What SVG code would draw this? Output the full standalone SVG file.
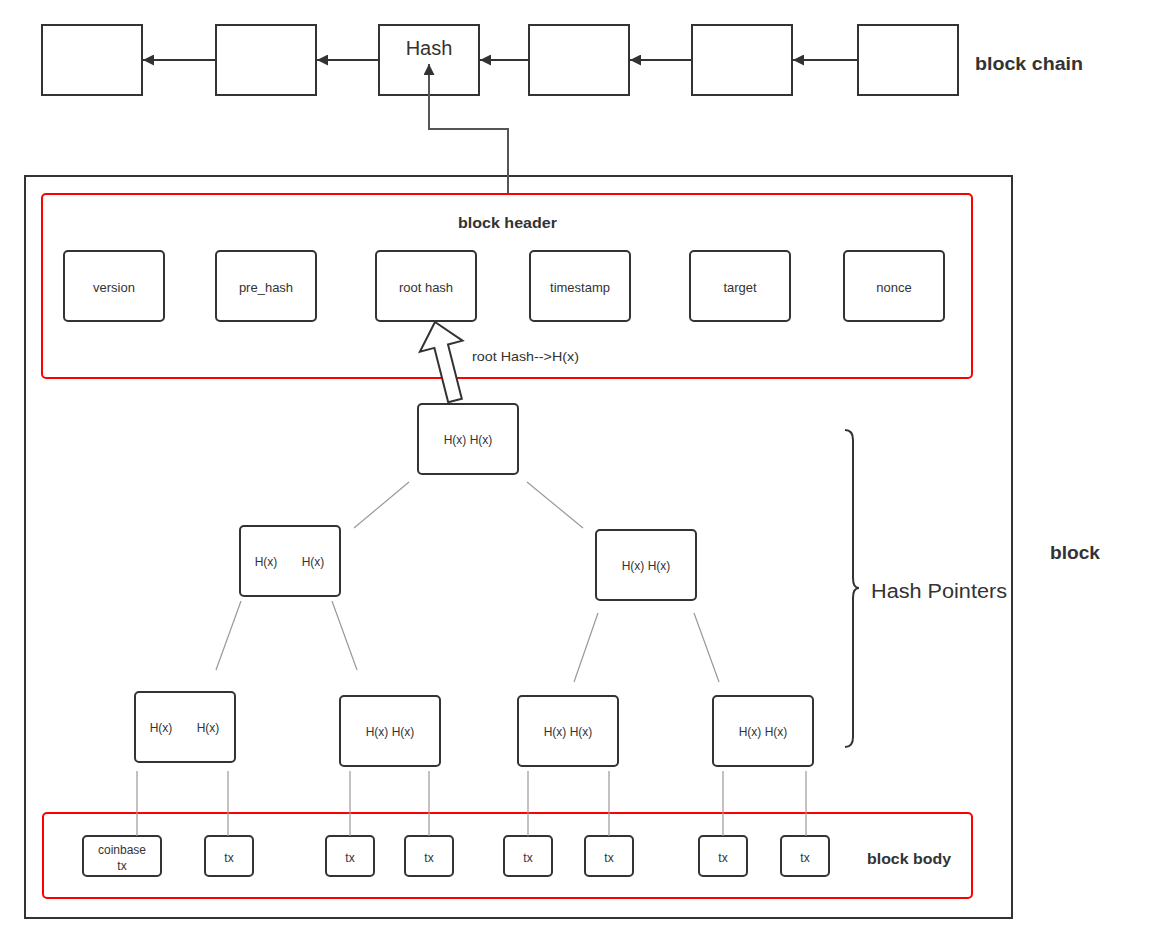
<svg xmlns="http://www.w3.org/2000/svg" width="1160" height="944" viewBox="0 0 1160 944">
<defs>
<style>
text{font-family:"Liberation Sans","Noto Sans",Arial,sans-serif;fill:#333}
.chain{fill:#fff;stroke:#333;stroke-width:2}
.node{fill:#fff;stroke:#333;stroke-width:2}
.red{fill:none;stroke:#ff0000;stroke-width:2}
.t13{font-size:13px;text-anchor:middle}
.t12{font-size:12px;text-anchor:middle}
.bold{font-weight:bold}
.tree{stroke:#999;stroke-width:1.2;fill:none}
.arrow{stroke:#333;stroke-width:2;fill:none}
</style>
<marker id="ah" viewBox="0 0 10 10" refX="10" refY="5" markerWidth="16" markerHeight="11" markerUnits="userSpaceOnUse" orient="auto">
<path d="M0,0 L10,5 L0,10 z" fill="#333"/>
</marker>
</defs>
<rect width="1160" height="944" fill="#fff"/>

<g id="block">
<rect x="25" y="176" width="987" height="742" fill="none" stroke="#333" stroke-width="2"/>
<text x="1050" y="559" font-size="18" class="bold" textLength="50" lengthAdjust="spacingAndGlyphs">block</text>
</g>

<g id="chain">
<rect id="c1" class="chain" x="42" y="25" width="100" height="70"/>
<rect id="c2" class="chain" x="216" y="25" width="100" height="70"/>
<g id="c3"><rect class="chain" x="379" y="25" width="100" height="70"/><text x="429" y="55" font-size="20" text-anchor="middle">Hash</text></g>
<rect id="c4" class="chain" x="529" y="25" width="100" height="70"/>
<rect id="c5" class="chain" x="692" y="25" width="100" height="70"/>
<rect id="c6" class="chain" x="858" y="25" width="100" height="70"/>
<text x="975" y="70" font-size="18" class="bold" textLength="108" lengthAdjust="spacingAndGlyphs">block chain</text>
</g>

<g id="header">
<rect class="red" x="42" y="194" width="930" height="184" rx="4"/>
<text x="458" y="228" font-size="15" class="bold" textLength="99" lengthAdjust="spacingAndGlyphs">block header</text>
<g id="version"><rect class="node" x="64" y="251" width="100" height="70" rx="4"/><text class="t13" x="114" y="292">version</text></g>
<g id="pre_hash"><rect class="node" x="216" y="251" width="100" height="70" rx="4"/><text class="t13" x="266" y="292">pre_hash</text></g>
<g id="root_hash"><rect class="node" x="376" y="251" width="100" height="70" rx="4"/><text class="t13" x="426" y="292">root hash</text></g>
<g id="timestamp"><rect class="node" x="530" y="251" width="100" height="70" rx="4"/><text class="t13" x="580" y="292">timestamp</text></g>
<g id="target"><rect class="node" x="690" y="251" width="100" height="70" rx="4"/><text class="t13" x="740" y="292">target</text></g>
<g id="nonce"><rect class="node" x="844" y="251" width="100" height="70" rx="4"/><text class="t13" x="894" y="292">nonce</text></g>
</g>

<g id="merkle">
<g id="root"><rect class="node" x="418" y="404" width="100" height="70" rx="4"/><text class="t12" x="468" y="444">H(x) H(x)</text></g>
<g id="l2a"><rect class="node" x="240" y="526" width="100" height="70" rx="4"/><text class="t12" x="266" y="566">H(x)</text><text class="t12" x="313" y="566">H(x)</text></g>
<g id="l2b"><rect class="node" x="596" y="530" width="100" height="70" rx="4"/><text class="t12" x="646" y="570">H(x) H(x)</text></g>
<g id="leaf1"><rect class="node" x="135" y="692" width="100" height="70" rx="4"/><text class="t12" x="161" y="732">H(x)</text><text class="t12" x="208" y="732">H(x)</text></g>
<g id="leaf2"><rect class="node" x="340" y="696" width="100" height="70" rx="4"/><text class="t12" x="390" y="736">H(x) H(x)</text></g>
<g id="leaf3"><rect class="node" x="518" y="696" width="100" height="70" rx="4"/><text class="t12" x="568" y="736">H(x) H(x)</text></g>
<g id="leaf4"><rect class="node" x="713" y="696" width="100" height="70" rx="4"/><text class="t12" x="763" y="736">H(x) H(x)</text></g>
</g>

<g id="body">
<rect class="red" x="43" y="813" width="929" height="85" rx="4"/>
<text x="867" y="864" font-size="15" class="bold" textLength="84" lengthAdjust="spacingAndGlyphs">block body</text>
<g id="tx0"><rect class="node" x="83" y="836" width="78" height="40" rx="4"/><text class="t12" x="122" y="854">coinbase</text><text class="t12" x="122" y="870">tx</text></g>
<g id="tx1"><rect class="node" x="205" y="836" width="48" height="40" rx="4"/><text class="t12" x="229" y="862">tx</text></g>
<g id="tx2"><rect class="node" x="326" y="836" width="48" height="40" rx="4"/><text class="t12" x="350" y="862">tx</text></g>
<g id="tx3"><rect class="node" x="405" y="836" width="48" height="40" rx="4"/><text class="t12" x="429" y="862">tx</text></g>
<g id="tx4"><rect class="node" x="504" y="836" width="48" height="40" rx="4"/><text class="t12" x="528" y="862">tx</text></g>
<g id="tx5"><rect class="node" x="585" y="836" width="48" height="40" rx="4"/><text class="t12" x="609" y="862">tx</text></g>
<g id="tx6"><rect class="node" x="699" y="836" width="48" height="40" rx="4"/><text class="t12" x="723" y="862">tx</text></g>
<g id="tx7"><rect class="node" x="781" y="836" width="48" height="40" rx="4"/><text class="t12" x="805" y="862">tx</text></g>
</g>

<g id="connectors">
<line class="arrow" x1="216" y1="60" x2="143" y2="60" marker-end="url(#ah)"/>
<line class="arrow" x1="379" y1="60" x2="317" y2="60" marker-end="url(#ah)"/>
<line class="arrow" x1="529" y1="60" x2="480" y2="60" marker-end="url(#ah)"/>
<line class="arrow" x1="692" y1="60" x2="630" y2="60" marker-end="url(#ah)"/>
<line class="arrow" x1="858" y1="60" x2="793" y2="60" marker-end="url(#ah)"/>
<path d="M508,194 L508,129 L429,129 L429,64" stroke="#555" stroke-width="2" fill="none" marker-end="url(#ah)"/>
<polygon points="435,322 462.5,340.7 448,344.5 461.8,398.8 448.2,402.2 434.4,347.9 419.9,351.7" fill="#fff" stroke="#333" stroke-width="2" stroke-linejoin="miter"/>
<text x="472" y="361" font-size="13" textLength="107" lengthAdjust="spacingAndGlyphs">root Hash-->H(x)</text>
<line class="tree" x1="409" y1="482" x2="354" y2="528"/>
<line class="tree" x1="527" y1="482" x2="583" y2="528"/>
<line class="tree" x1="241" y1="601" x2="216" y2="670"/>
<line class="tree" x1="332" y1="601" x2="357" y2="670"/>
<line class="tree" x1="598" y1="613" x2="574" y2="682"/>
<line class="tree" x1="694" y1="613" x2="719" y2="682"/>
<line class="tree" x1="137" y1="771" x2="137" y2="836"/>
<line class="tree" x1="228" y1="771" x2="228" y2="836"/>
<line class="tree" x1="350" y1="771" x2="350" y2="836"/>
<line class="tree" x1="429" y1="771" x2="429" y2="836"/>
<line class="tree" x1="528" y1="771" x2="528" y2="836"/>
<line class="tree" x1="609" y1="771" x2="609" y2="836"/>
<line class="tree" x1="723" y1="771" x2="723" y2="836"/>
<line class="tree" x1="806" y1="771" x2="806" y2="836"/>
</g>

<g id="brace">
<path d="M845,430 Q853,430 853,440 L853,578 Q853,588 859,588 Q853,588 853,598 L853,737 Q853,747 845,747" fill="none" stroke="#333" stroke-width="2"/>
<text x="871" y="598" font-size="20" textLength="136" lengthAdjust="spacingAndGlyphs">Hash Pointers</text>
</g>
</svg>
